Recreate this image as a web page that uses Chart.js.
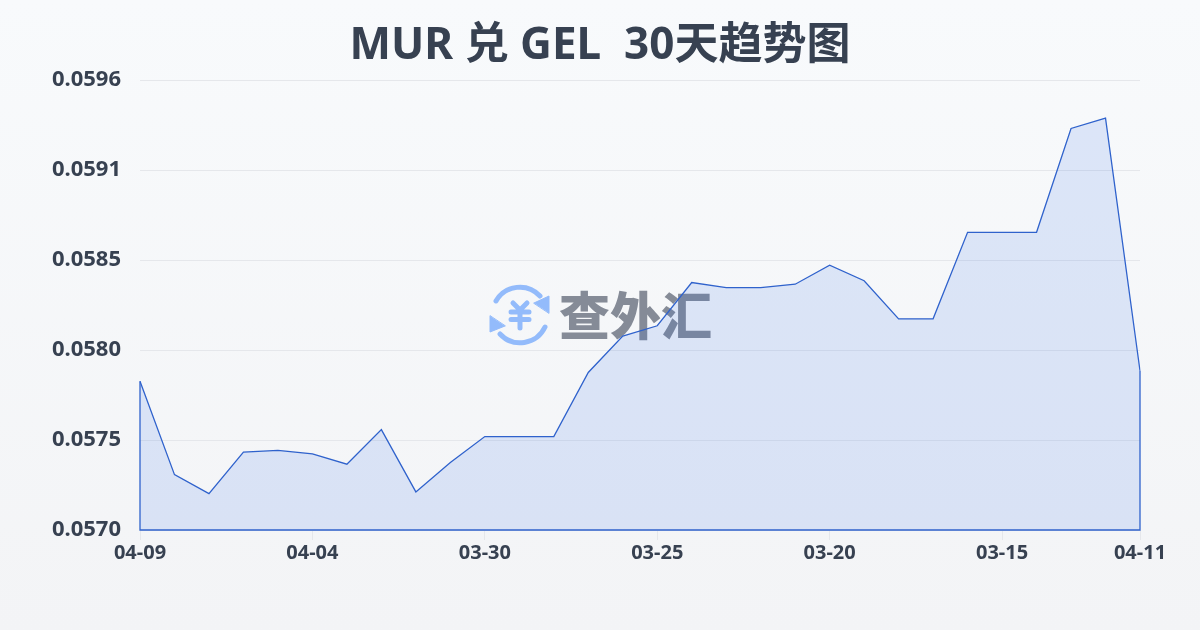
<!DOCTYPE html>
<html>
<head>
<meta charset="utf-8">
<script src="https://cdn.jsdelivr.net/npm/chart.js@4"></script>
<style>
    html, body { margin: 0; padding: 0; }
    #wrap {
        position: relative; width: 1200px; height: 630px; overflow: hidden;
        background: linear-gradient(180deg, #f8fafc 0%, #f3f4f6 100%);
    }
    #logo { position: absolute; left: 485px; top: 280px; width: 70px; height: 70px; }
    #mark {
        position: absolute; left: 559px; top: 277px;
        font: 900 51px/72px "Noto Sans CJK SC", sans-serif; color: #858b97;
    }
    canvas { position: absolute; left: 0; top: 0; }
</style>
</head>
<body>
<div id="wrap">
    <svg id="logo" viewBox="0 0 70 70" fill="none" stroke="#93bbfb" stroke-linecap="round" stroke-linejoin="round">
        <path d="M11 21 A27.5 27.5 0 0 1 55 16" stroke-width="5"/>
        <path d="M60 47 A27.5 27.5 0 0 1 15 54" stroke-width="5"/>
        <path d="M49 23 L64 16 L64 33 Z" fill="#93bbfb" stroke="#93bbfb" stroke-width="1"/>
        <path d="M5 36 L5 52 L20 46 Z" fill="#93bbfb" stroke="#93bbfb" stroke-width="1"/>
        <path d="M28 23 L35 30 L42 23 M26 32 H44 M26 39.5 H44 M35 30 V48" stroke-width="5"/>
    </svg>
    <div id="mark">查外汇</div>
    <canvas id="rateChart" width="1200" height="630"></canvas>
</div>
<script>
    const dates = ['04-09', '04-08', '04-07', '04-06', '04-05', '04-04', '04-03', '04-02', '04-01', '03-31',
        '03-30', '03-29', '03-28', '03-27', '03-26', '03-25', '03-24', '03-23', '03-22', '03-21',
        '03-20', '03-19', '03-18', '03-17', '03-16', '03-15', '03-14', '03-13', '03-12', '04-11'];
    const rates = [0.05786, 0.05732, 0.05721, 0.05745, 0.05746, 0.05744, 0.05738, 0.05758, 0.05722, 0.05739,
        0.05754, 0.05754, 0.05754, 0.05791, 0.05812, 0.05818, 0.05843, 0.05840, 0.05840, 0.05842,
        0.05853, 0.05844, 0.05822, 0.05822, 0.05872, 0.05872, 0.05872, 0.05932, 0.05938, 0.05792];
    const yTicks = [0.0570, 0.05752, 0.05804, 0.05856, 0.05908, 0.0596];
    const yLabels = ['0.0570', '0.0575', '0.0580', '0.0585', '0.0591', '0.0596'];
    const xLabelEvery = 5;

    const labelFont = '"Noto Sans", "Noto Sans CJK SC", sans-serif';
    const lineColor = '#2f62cc';

    function isLabelled(i) {
        return i % xLabelEvery === 0 || i === dates.length - 1;
    }

    // Chart.js does not stroke the sides of a filled area, so close the outline here
    const closeOutline = {
        id: 'closeOutline',
        afterDatasetsDraw(chart) {
            const pts = chart.getDatasetMeta(0).data;
            const base = chart.scales.y.getPixelForValue(yTicks[0]);
            const ctx = chart.ctx;
            ctx.save();
            ctx.strokeStyle = lineColor;
            ctx.lineWidth = 1.3;
            ctx.beginPath();
            ctx.moveTo(pts[0].x, pts[0].y);
            ctx.lineTo(pts[0].x, base);
            ctx.lineTo(pts[pts.length - 1].x, base);
            ctx.lineTo(pts[pts.length - 1].x, pts[pts.length - 1].y);
            ctx.stroke();
            ctx.restore();
        }
    };

    new Chart(document.getElementById('rateChart').getContext('2d'), {
        type: 'line',
        data: {
            labels: dates,
            datasets: [{
                data: rates,
                borderColor: lineColor,
                backgroundColor: 'rgba(37, 99, 235, 0.13)',
                borderWidth: 1.3,
                fill: 'start',
                tension: 0,
                pointRadius: 0
            }]
        },
        plugins: [closeOutline],
        options: {
            responsive: false,
            animation: false,
            layout: { padding: { bottom: 61 } },
            plugins: {
                legend: { display: false },
                tooltip: { enabled: false },
                title: {
                    display: true,
                    text: 'MUR 兑 GEL  30天趋势图',
                    color: '#374151',
                    font: { family: labelFont, size: 44, weight: '700', lineHeight: 1.2 },
                    padding: { top: 20, bottom: 7.2 }
                }
            },
            scales: {
                x: {
                    offset: false,
                    border: { display: false },
                    grid: {
                        drawOnChartArea: false,
                        drawTicks: true,
                        tickLength: 10,
                        color: '#e5e7eb',
                        tickColor: ctx => isLabelled(ctx.index) ? '#e5e7eb' : 'transparent'
                    },
                    // right padding here keeps the title centred on the full canvas
                    afterFit(scale) { scale.height = 39; scale.paddingRight = 60; },
                    ticks: {
                        autoSkip: false,
                        maxRotation: 0,
                        padding: 1,
                        color: '#374151',
                        font: { family: labelFont, size: 20, weight: '700' },
                        callback(value, i) { return isLabelled(i) ? dates[i] : ''; }
                    }
                },
                y: {
                    min: yTicks[0],
                    max: yTicks[yTicks.length - 1],
                    border: { display: false },
                    grid: { drawTicks: false, color: '#e5e7eb' },
                    afterBuildTicks(scale) { scale.ticks = yTicks.map(v => ({ value: v })); },
                    afterFit(scale) { scale.width = 140; },
                    ticks: {
                        padding: 19,
                        color: '#374151',
                        font: { family: labelFont, size: 22, weight: '700' },
                        callback(value) { return yLabels[yTicks.indexOf(value)]; }
                    }
                }
            }
        }
    });
</script>
</body>
</html>
